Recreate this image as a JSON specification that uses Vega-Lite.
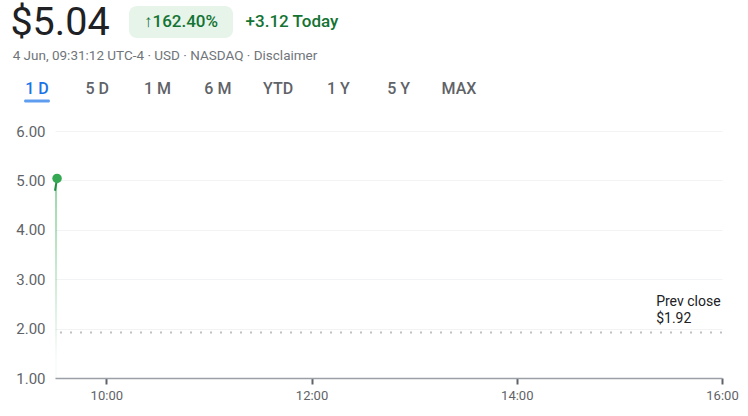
{
  "$schema": "https://vega.github.io/schema/vega-lite/v6.json",
  "padding": {"top": 3, "left": 0, "right": 0, "bottom": 0},
  "background": "white",
  "spacing": 0,
  "config": {
    "view": {"stroke": null},
    "font": "Roboto",
    "text": {"font": "Roboto"},
    "axis": {"labelFont": "Roboto", "labelColor": "#5f6368", "labelFontSize": 13}
  },
  "datasets": {
    "header": [
      {"price": "$5.04", "change": "↑162.40%", "today": "+3.12 Today", "info": "4 Jun, 09:31:12 UTC-4 · USD · NASDAQ · Disclaimer"}
    ],
    "tabs": [
      {"tab": "1 D", "active": "yes"},
      {"tab": "5 D", "active": "no"},
      {"tab": "1 M", "active": "no"},
      {"tab": "6 M", "active": "no"},
      {"tab": "YTD", "active": "no"},
      {"tab": "1 Y", "active": "no"},
      {"tab": "5 Y", "active": "no"},
      {"tab": "MAX", "active": "no"}
    ],
    "prices": [
      {"time": "2024-06-04T09:30:00", "price": 4.79},
      {"time": "2024-06-04T09:31:12", "price": 5.04}
    ],
    "prev": [
      {"label": "Prev close", "value": "$1.92", "price": 1.92}
    ]
  },
  "vconcat": [
    {
      "spacing": 9,
      "hconcat": [
        {
          "width": 120, "height": 32,
          "data": {"name": "header"},
          "mark": {"type": "text", "fontSize": 39.5, "color": "#202124", "baseline": "middle", "dy": 1},
          "encoding": {"text": {"field": "price"}}
        },
        {
          "width": 104, "height": 32,
          "view": {"fill": "#e6f4ea", "cornerRadius": 8, "stroke": null},
          "data": {"name": "header"},
          "mark": {"type": "text", "fontSize": 17, "fontWeight": 500, "color": "#137333", "baseline": "middle"},
          "encoding": {"text": {"field": "change"}}
        },
        {
          "width": 100, "height": 32,
          "data": {"name": "header"},
          "mark": {"type": "text", "fontSize": 17, "fontWeight": 500, "color": "#137333", "baseline": "middle"},
          "encoding": {"text": {"field": "today"}}
        }
      ]
    },
    {
      "width": 330, "height": 26,
      "data": {"name": "header"},
      "mark": {"type": "text", "fontSize": 13.5, "color": "#70757a", "baseline": "middle"},
      "encoding": {"text": {"field": "info"}}
    },
    {
      "width": 496, "height": 55,
      "data": {"name": "tabs"},
      "encoding": {
        "x": {"field": "tab", "type": "nominal", "sort": null, "scale": {"type": "point", "padding": 0.614}, "axis": null}
      },
      "layer": [
        {
          "mark": {"type": "text", "fontSize": 16, "fontWeight": 500, "baseline": "middle", "dy": -8},
          "encoding": {
            "text": {"field": "tab"},
            "color": {"field": "active", "type": "nominal", "scale": {"domain": ["yes", "no"], "range": ["#1a73e8", "#5f6368"]}, "legend": null}
          }
        },
        {
          "transform": [{"filter": "datum.active == 'yes'"}],
          "mark": {"type": "tick", "orient": "horizontal", "size": 26, "thickness": 3, "color": "#1a73e8", "cornerRadius": 1.5, "yOffset": 4.5}
        }
      ]
    },
    {
      "spacing": 0,
      "hconcat": [
        {
          "width": 10, "height": 1,
          "data": {"values": []},
          "mark": {"type": "text"},
          "encoding": {}
        },
        {
          "width": 667, "height": 247,
          "layer": [
            {
              "data": {"name": "prev"},
              "mark": {"type": "rule", "color": "#bdc1c6", "strokeWidth": 2, "strokeDash": [2, 8]},
              "encoding": {
                "y": {
                  "field": "price", "type": "quantitative",
                  "scale": {"domain": [1, 6], "nice": false, "zero": false},
                  "axis": {
                    "title": null, "format": ".2f", "values": [1, 2, 3, 4, 5, 6],
                    "domain": false, "ticks": false, "labelPadding": 10, "minExtent": 45,
                    "labelFontSize": 15,
                    "gridColor": "#f1f3f4", "gridWidth": 1
                  }
                }
              }
            },
            {
              "data": {"name": "prices"},
              "mark": {
                "type": "area",
                "color": {
                  "gradient": "linear", "x1": 0, "y1": 0, "x2": 0, "y2": 1,
                  "stops": [
                    {"offset": 0, "color": "rgba(52,168,83,0.5)"},
                    {"offset": 0.9, "color": "rgba(52,168,83,0.03)"}
                  ]
                }
              },
              "encoding": {
                "x": {
                  "field": "time", "type": "temporal",
                  "scale": {"domain": [{"year": 2024, "month": 6, "date": 4, "hours": 9, "minutes": 30}, {"year": 2024, "month": 6, "date": 4, "hours": 16}]},
                  "axis": {
                    "title": null, "grid": false, "format": "%H:%M",
                    "values": [
                      {"year": 2024, "month": 6, "date": 4, "hours": 10},
                      {"year": 2024, "month": 6, "date": 4, "hours": 12},
                      {"year": 2024, "month": 6, "date": 4, "hours": 14},
                      {"year": 2024, "month": 6, "date": 4, "hours": 16}
                    ],
                    "domainColor": "#9aa0a6", "domainWidth": 1.5,
                    "tickColor": "#5f6368", "tickWidth": 2, "tickSize": 6,
                    "labelPadding": 5, "labelFlush": false
                  }
                },
                "y": {"field": "price", "type": "quantitative"},
                "y2": {"datum": 1}
              }
            },
            {
              "data": {"name": "prices"},
              "mark": {"type": "line", "color": "#1e8e3e", "strokeWidth": 2},
              "encoding": {
                "x": {"field": "time", "type": "temporal"},
                "y": {"field": "price", "type": "quantitative"}
              }
            },
            {
              "data": {"name": "prices"},
              "transform": [{"filter": "datum.price == 5.04"}],
              "mark": {"type": "point", "filled": true, "opacity": 1, "color": "#34a853", "size": 90},
              "encoding": {
                "x": {"field": "time", "type": "temporal"},
                "y": {"field": "price", "type": "quantitative"}
              }
            },
            {
              "data": {"name": "prev"},
              "mark": {"type": "text", "align": "left", "baseline": "bottom", "fontSize": 14, "color": "#202124", "dy": -24, "lineHeight": 17},
              "encoding": {
                "x": {"datum": {"year": 2024, "month": 6, "date": 4, "hours": 15, "minutes": 21, "seconds": 30}, "type": "temporal"},
                "y": {"field": "price", "type": "quantitative"},
                "text": {"value": ["Prev close", "$1.92"]}
              }
            }
          ]
        }
      ]
    }
  ]
}
